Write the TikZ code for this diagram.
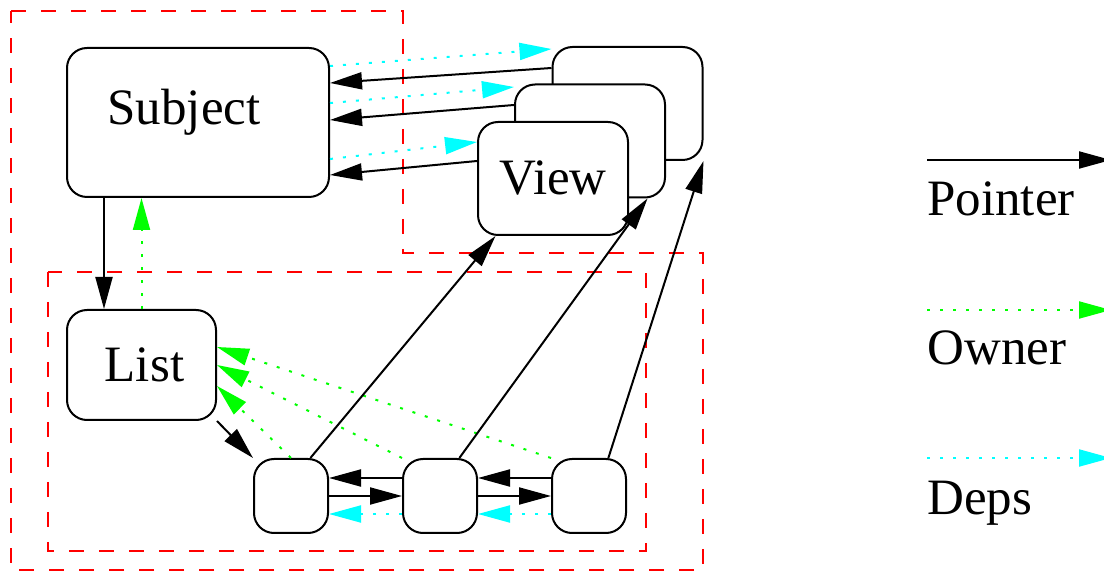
\documentclass[tikz,border=0pt]{standalone}
\usepackage{fontspec}
\setmainfont{Liberation Serif}
\usetikzlibrary{positioning, arrows.meta}

\definecolor{owncol}{RGB}{0,255,0}
\definecolor{depcol}{RGB}{0,255,255}
\definecolor{cluscol}{RGB}{255,0,0}

\begin{document}
\begin{tikzpicture}[x=0.5pt, y=-0.5pt, node distance=36.5pt,
    every node/.style={font=\fontsize{25.5}{30}\selectfont},
    obj/.style={draw, line width=1pt, rounded corners=10pt, fill=white, inner sep=0pt},
    small/.style={obj, minimum size=37pt},
    viewbox/.style={obj, minimum width=75pt, minimum height=56.5pt},
    ptr/.style={-{Triangle[length=16pt, width=8.5pt]}, line width=1pt},
    own/.style={ptr, owncol, dash pattern=on 1.5pt off 5pt},
    dep/.style={ptr, depcol, dash pattern=on 1.5pt off 5pt},
    clus/.style={cluscol, line width=1pt, dash pattern=on 7.5pt off 7.5pt}]
        \useasboundingbox (0,0) rectangle (1104,571);

        % clusters
        \draw[clus] (11,11) -- (403,11) -- (403,253) -- (703,253) -- (703,570) -- (11,570) -- cycle;
        \draw[clus] (48,272) rectangle (646,551);

        \node[obj, minimum width=131pt, minimum height=74.5pt] (subj) at (198,122.5) {};
        \node[anchor=base] (subjlbl) at (184,125) {Subject};
        \node[obj, minimum width=74.5pt, minimum height=55pt] (lst) at (141.5,365) {\hspace{3pt}List};

        \node[viewbox] (v3) at (627.5,103.5) {};
        \node[viewbox] (v2) at (590,141) {};
        \node[viewbox] (v1) at (553,178.5) {View};

        \node[small] (e1) at (291,496) {};
        \node[small] (e2) [right=of e1] {};
        \node[small] (e3) [right=of e2] {};

        % subject and views
        \draw[ptr] ([yshift=17.75pt]v3.west) -- ([yshift=19.75pt]subj.east);
        \draw[dep] ([yshift=28.25pt]subj.east) -- ([yshift=27.25pt]v3.west);
        \draw[ptr] ([yshift=18pt]v2.west) -- ([yshift=1.25pt]subj.east);
        \draw[dep] ([yshift=9.75pt]subj.east) -- ([yshift=27pt]v2.west);
        \draw[ptr] ([yshift=8.75pt]v1.west) -- ([yshift=-26.25pt]subj.east);
        \draw[dep] ([yshift=-18.25pt]subj.east) -- ([yshift=18.25pt]v1.west);

        \draw[ptr] ([xshift=-47pt]subj.south) -- ([xshift=-47pt]subj.south |- lst.north);
        \draw[own] (lst.north) -- (lst.north |- subj.south);
        \draw[ptr] (lst.south east) -- (e1.north west);

        % list elements
        \draw[ptr] ([yshift=9pt]e2.west) -- ([yshift=9pt]e1.east);
        \draw[ptr] (e1.east) -- (e2.west);
        \draw[dep] ([yshift=-9pt]e2.west) -- ([yshift=-9pt]e1.east);
        \draw[ptr] ([yshift=9pt]e3.west) -- ([yshift=9pt]e2.east);
        \draw[ptr] (e2.east) -- (e3.west);
        \draw[dep] ([yshift=-9pt]e3.west) -- ([yshift=-9pt]e2.east);

        \draw[own] (e1.north) -- ([yshift=-10.5pt]lst.east);
        \draw[own] (e2.north west) -- (lst.east);
        \draw[own] (e3.north west) -- ([yshift=9pt]lst.east);

        \draw[ptr] (e1.63) -- (v1.225);
        \draw[ptr] (e2.63) -- (v2.315);
        \draw[ptr] (e3.63) -- (v3.south east);

        % legend
        \coordinate (lp0) at (927,160);
        \coordinate (lp1) at (1111,160);
        \coordinate (lo0) at (927,310);
        \coordinate (lo1) at (1111,310);
        \coordinate (ld0) at (927,458);
        \coordinate (ld1) at (1111,458);
        \draw[ptr] (lp0) -- (lp1);
        \draw[own] (lo0) -- (lo1);
        \draw[dep] (ld0) -- (ld1);
        \node[anchor=base west, inner sep=0pt] (lptr) at (927,216) {Pointer};
        \node[anchor=base west, inner sep=0pt] (lown) at (927,365) {Owner};
        \node[anchor=base west, inner sep=0pt] (ldep) at (927,515) {Deps};
    \end{tikzpicture}
\end{document}
